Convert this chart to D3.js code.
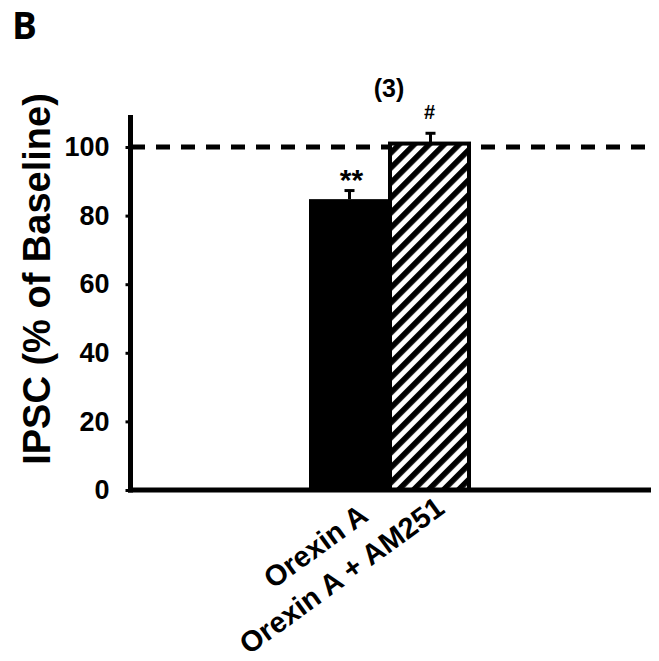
<!DOCTYPE html>
<html lang="en">
<head>
  <meta charset="utf-8" />
  <title>IPSC bar chart</title>
  <style>
    body { margin: 0; background: #fff; }
    svg { display: block; font-family: "Liberation Sans", Arial, sans-serif; font-weight: bold; }
  </style>
</head>
<body>
<svg id="chart" width="659" height="661"></svg>

<script src="https://d3js.org/d3.v7.min.js"></script>
<script>
  // data
  const categories = ["Orexin A", "Orexin A + AM251"];
  const means = [84.8, 101];
  const sems = [2.5, 3];
  const marks = ["**", "#"];
  const yTicks = [0, 20, 40, 60, 80, 100];
  const baseline = 100;

  const svg = d3.select("#chart");

  const y = d3.scaleLinear().domain([0, 100]).range([490, 147]);
  const x = d3.scaleBand().domain(categories).range([309, 471]).padding(0);

  // hatch pattern for the AM251 bar
  const defs = svg.append("defs");
  const pat = defs.append("pattern")
    .attr("id", "hatch")
    .attr("patternUnits", "userSpaceOnUse")
    .attr("width", 10.6).attr("height", 10.6)
    .attr("patternTransform", "rotate(45)");
  pat.append("rect").attr("width", 10.6).attr("height", 10.6).attr("fill", "#fff");
  pat.append("rect").attr("width", 5.6).attr("height", 10.6).attr("fill", "#000");

  // panel letter
  svg.append("text")
    .attr("x", 12).attr("y", 39)
    .style("font-family", "'Open Sans', sans-serif")
    .style("font-size", "37px")
    .text("B");

  // dashed 100% line (behind the bars)
  svg.append("line")
    .attr("x1", 131).attr("x2", 647)
    .attr("y1", y(baseline)).attr("y2", y(baseline))
    .attr("stroke", "#000").attr("stroke-width", 5)
    .attr("stroke-dasharray", "14,11");

  // bars
  const bars = svg.append("g");
  categories.forEach((c, i) => {
    if (i === 0) {
      bars.append("rect")
        .attr("x", x(c)).attr("width", x.bandwidth())
        .attr("y", y(means[i])).attr("height", y(0) - y(means[i]))
        .attr("fill", "#000");
    } else {
      bars.append("rect")
        .attr("x", x(c)).attr("width", x.bandwidth() - 2)
        .attr("y", y(means[i])).attr("height", y(0) - y(means[i]))
        .attr("fill", "url(#hatch)")
        .attr("stroke", "#000").attr("stroke-width", 4);
    }
    // error bar (upper only)
    const cx = x(c) + x.bandwidth() / 2;
    bars.append("line")
      .attr("x1", cx).attr("x2", cx)
      .attr("y1", y(means[i])).attr("y2", y(means[i] + sems[i]))
      .attr("stroke", "#000").attr("stroke-width", 3);
    bars.append("line")
      .attr("x1", cx - 5).attr("x2", cx + 5)
      .attr("y1", y(means[i] + sems[i])).attr("y2", y(means[i] + sems[i]))
      .attr("stroke", "#000").attr("stroke-width", 3);
  });

  // significance marks
  svg.append("text")
    .attr("x", x(categories[0]) + x.bandwidth() / 2 + 2)
    .attr("y", y(means[0] + sems[0]) - 1)
    .attr("text-anchor", "middle")
    .style("font-size", "30px")
    .text(marks[0]);
  svg.append("text")
    .attr("x", x(categories[1]) + x.bandwidth() / 2 - 1)
    .attr("y", y(means[1] + sems[1]) - 14)
    .attr("text-anchor", "middle")
    .style("font-size", "20px")
    .text(marks[1]);
  svg.append("text")
    .attr("x", 389).attr("y", 97)
    .attr("text-anchor", "middle")
    .style("font-size", "25px")
    .text("(3)");

  // y axis
  const yAxis = d3.axisLeft(y).tickValues(yTicks).tickSize(5).tickPadding(16);
  const gy = svg.append("g").attr("transform", "translate(130.5,0)").call(yAxis);
  gy.select(".domain").remove();
  gy.selectAll(".tick line").attr("stroke", "#000").attr("stroke-width", 3);
  gy.selectAll(".tick text")
    .attr("fill", "#000")
    .style("font-size", "27px")
    .style("font-family", "'Liberation Sans', Arial, sans-serif")
    .style("font-weight", "bold");
  svg.append("line")
    .attr("x1", 130.5).attr("x2", 130.5)
    .attr("y1", 115).attr("y2", y(0) + 2.5)
    .attr("stroke", "#000").attr("stroke-width", 5);

  // x axis
  svg.append("line")
    .attr("x1", 128).attr("x2", 651)
    .attr("y1", y(0)).attr("y2", y(0))
    .attr("stroke", "#000").attr("stroke-width", 5);

  // category label (two lines, rotated)
  const lab = svg.append("g")
    .attr("transform", `translate(${x(categories[0]) + x.bandwidth() - 55},${y(0) + 78}) rotate(-36)`);
  categories.forEach((c, i) => {
    lab.append("text")
      .attr("x", i === 0 ? -3 : 1)
      .attr("y", i === 0 ? -19 : 20)
      .attr("text-anchor", "middle")
      .style("font-size", "29px")
      .text(c);
  });

  // y axis title
  svg.append("text")
    .attr("transform", "translate(50,279) rotate(-90)")
    .attr("text-anchor", "middle")
    .style("font-size", "38px")
    .text("IPSC (% of Baseline)");
</script>
</body>
</html>
